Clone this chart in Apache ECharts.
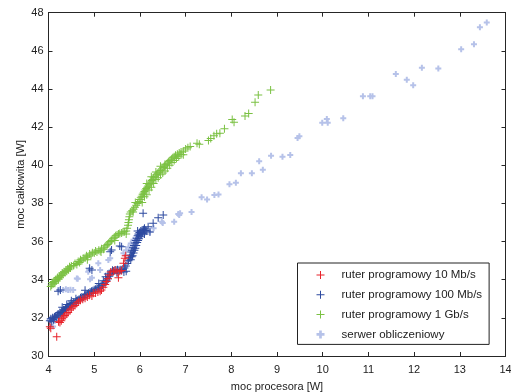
<!DOCTYPE html>
<html><head><meta charset="utf-8">
<script src="https://cdn.jsdelivr.net/npm/echarts@6/dist/echarts.min.js"></script>
<style>html,body{margin:0;padding:0;background:#fff}#c{width:511px;height:392px}</style>
</head><body><div id="c"></div>
<script>
const seriesNames = ['ruter programowy 10 Mb/s','ruter programowy 100 Mb/s','ruter programowy 1 Gb/s','serwer obliczeniowy'];
const xTicks = [4,5,6,7,8,9,10,11,12,13,14];
const yTicks = [30,32,34,36,38,40,42,44,46,48];

const red10 = [[4.03,31.54],[4.05,31.45],[4.18,31.01],[4.22,31.80],[4.25,31.75],[4.28,31.85],[4.30,31.95],[4.33,32.05],[4.36,32.12],[4.40,32.20],[4.43,32.28],[4.47,32.41],[4.50,32.50],[4.54,32.58],[4.58,32.65],[4.62,32.76],[4.66,32.85],[4.70,32.92],[4.75,32.98],[4.80,33.03],[4.85,33.10],[4.90,33.18],[4.95,33.15],[4.98,33.29],[5.03,33.30],[5.08,33.35],[5.13,33.40],[5.16,33.46],[5.20,33.60],[5.24,33.75],[5.27,33.90],[5.30,34.05],[5.33,34.25],[5.36,34.40],[5.42,34.45],[5.46,34.51],[5.50,34.40],[5.53,34.10],[5.56,34.45],[5.60,34.48],[5.64,34.86],[5.67,35.12],[5.69,35.25]];

const blue100 = [[4.03,31.85],[4.05,31.95],[4.07,31.80],[4.09,32.00],[4.11,31.90],[4.13,32.05],[4.15,32.10],[4.17,32.00],[4.19,32.15],[4.21,32.20],[4.23,32.10],[4.25,32.28],[4.27,32.22],[4.29,32.35],[4.31,32.30],[4.33,32.42],[4.35,32.38],[4.37,32.50],[4.39,32.45],[4.41,32.58],[4.43,32.55],[4.45,32.68],[4.47,32.62],[4.49,32.75],[4.52,32.72],[4.55,32.80],[4.58,32.78],[4.61,32.88],[4.64,32.92],[4.67,32.98],[4.70,33.05],[4.73,33.10],[4.76,33.08],[4.79,33.18],[4.82,33.22],[4.85,33.25],[4.88,33.30],[4.91,33.35],[4.94,33.40],[4.97,33.42],[5.00,33.48],[5.03,33.50],[5.06,33.55],[5.09,33.58],[5.12,33.62],[5.15,33.68],[5.18,33.72],[5.21,33.80],[5.24,33.88],[5.27,33.95],[5.30,34.05],[5.33,34.18],[5.36,34.30],[5.39,34.40],[5.42,34.45],[5.45,34.48],[5.48,34.50],[5.51,34.52],[5.54,34.50],[5.57,34.52],[5.60,34.50],[5.63,34.55],[5.66,34.62],[5.69,34.72],[5.72,34.85],[5.75,35.00],[5.77,35.15],[5.79,35.30],[5.81,35.45],[5.83,35.55],[5.85,35.68],[5.87,35.80],[5.89,35.92],[5.91,36.05],[5.93,36.18],[5.95,36.30],[5.97,36.40],[5.99,36.48],[6.02,36.55],[6.05,36.60],[6.08,36.62],[6.12,36.58],[6.15,36.55],[6.18,36.78],[6.22,36.50],[6.29,36.96],[6.40,37.25],[6.51,37.39],[6.07,37.48],[4.21,33.40],[4.26,33.46],[4.95,34.51],[4.90,34.60],[5.35,35.47],[5.38,35.56],[5.56,35.77],[5.60,35.73],[4.80,33.45],[5.10,33.80],[5.30,34.30],[5.70,34.45],[5.80,35.05],[5.84,35.25],[5.88,35.55],[5.92,35.80],[5.96,36.05],[6.00,36.25],[6.03,36.35],[5.65,34.40],[5.50,34.35],[5.40,34.50],[5.25,34.15],[5.20,33.95],[4.60,33.00],[4.40,32.70],[4.30,32.55],[4.50,32.90],[5.86,35.40],[5.90,35.65],[5.94,35.95],[5.98,36.15],[6.02,36.40],[6.06,36.45],[6.10,36.40],[5.82,35.20],[5.95,36.55],[6.10,36.70]];

const green1g = [[4.05,33.65],[4.07,33.72],[4.08,33.85],[4.10,33.78],[4.12,33.90],[4.14,33.82],[4.15,34.00],[4.17,33.95],[4.19,34.05],[4.20,34.12],[4.22,34.02],[4.24,34.18],[4.25,34.10],[4.27,34.25],[4.29,34.22],[4.30,34.35],[4.32,34.30],[4.34,34.42],[4.36,34.36],[4.38,34.50],[4.40,34.45],[4.42,34.58],[4.44,34.52],[4.46,34.68],[4.48,34.62],[4.50,34.72],[4.55,34.75],[4.58,34.85],[4.62,34.80],[4.65,34.95],[4.68,34.90],[4.70,35.05],[4.73,35.00],[4.76,35.12],[4.80,35.15],[4.83,35.25],[4.86,35.20],[4.90,35.35],[4.93,35.30],[4.96,35.42],[5.00,35.40],[5.03,35.50],[5.06,35.45],[5.10,35.55],[5.13,35.52],[5.16,35.62],[5.20,35.60],[5.23,35.70],[5.26,35.78],[5.29,35.85],[5.32,35.92],[5.35,36.00],[5.38,36.05],[5.41,36.15],[5.44,36.22],[5.47,36.30],[5.50,36.35],[5.53,36.40],[5.56,36.42],[5.60,36.45],[5.63,36.50],[5.66,36.52],[5.70,36.55],[5.72,36.70],[5.74,36.85],[5.75,37.00],[5.76,37.15],[5.77,37.30],[5.78,37.45],[5.80,37.55],[5.83,37.62],[5.86,37.70],[5.89,37.80],[5.92,37.90],[5.95,38.00],[5.98,38.10],[6.00,38.20],[6.02,38.30],[6.04,38.38],[6.06,38.48],[6.08,38.55],[6.10,38.62],[6.12,38.70],[6.14,38.78],[6.16,38.85],[6.18,38.92],[6.20,38.98],[6.22,39.05],[6.24,39.12],[6.26,39.20],[6.28,39.25],[6.30,39.35],[6.33,39.42],[6.36,39.50],[6.39,39.58],[6.42,39.65],[6.45,39.72],[6.48,39.80],[6.51,39.88],[6.54,39.95],[6.57,40.02],[6.60,40.10],[6.63,40.18],[6.66,40.25],[6.69,40.32],[6.72,40.40],[6.75,40.45],[6.78,40.52],[6.82,40.58],[6.86,40.65],[6.90,40.70],[6.95,40.75],[7.00,40.85],[7.05,40.92],[7.10,40.98],[7.25,41.15],[7.30,41.10],[7.50,41.30],[7.55,41.40],[7.62,41.55],[7.68,41.65],[7.75,41.68],[7.85,41.92],[8.02,42.40],[8.06,42.25],[8.30,42.58],[8.38,42.72],[8.52,43.30],[8.59,43.69],[8.86,43.95],[6.05,38.05],[6.10,38.35],[6.15,38.45],[6.20,38.70],[6.25,38.85],[6.30,39.05],[6.35,39.25],[6.40,39.35],[6.45,39.50],[6.50,39.60],[6.55,39.70],[6.60,39.85],[6.65,40.00],[6.70,40.15],[6.75,40.25],[6.80,40.35],[6.85,40.45],[6.90,40.55],[6.95,40.55],[6.25,39.40],[6.15,39.05],[6.35,39.65],[6.55,40.05],[6.45,39.95],[5.90,38.05],[5.85,37.55],[5.70,36.40],[5.45,36.05],[5.15,35.45],[4.85,35.05]];

const server = [[4.03,31.90],[4.10,31.55],[4.14,31.85],[4.24,33.46],[4.32,33.46],[4.38,33.50],[4.43,33.46],[4.48,33.48],[4.54,33.46],[4.62,34.07],[4.64,34.05],[4.87,34.42],[4.89,34.51],[4.91,34.02],[4.95,34.10],[5.09,34.86],[5.13,34.51],[5.31,35.03],[5.35,35.12],[5.64,35.39],[5.70,35.55],[5.75,35.70],[5.80,35.90],[5.86,36.10],[5.95,36.35],[6.05,36.45],[6.22,36.52],[6.30,36.70],[6.48,37.04],[6.50,36.98],[6.75,37.04],[6.84,37.45],[6.86,37.39],[6.88,37.48],[7.13,37.55],[7.35,38.33],[7.47,38.20],[7.63,38.44],[7.72,38.47],[7.96,39.00],[8.10,39.09],[8.21,39.58],[8.45,39.58],[8.61,40.21],[8.69,39.77],[8.87,40.50],[9.12,40.45],[9.29,40.54],[9.45,41.43],[9.49,41.52],[9.99,42.23],[10.09,42.43],[10.11,42.23],[10.45,42.46],[10.88,43.62],[11.04,43.62],[11.09,43.62],[11.60,44.79],[11.84,44.49],[11.98,44.19],[12.17,45.12],[12.53,45.07],[13.03,46.08],[13.31,46.35],[13.44,47.24],[13.59,47.48]];

const colors = ['#e8232b','#2d4aa0','#7bc143','#b6c2e9'];
const plusThin = 'path://M3.5,0H4.5V3.5H8V4.5H4.5V8H3.5V4.5H0V3.5H3.5Z';
const plusThick = 'path://M2,0H4V2H6V4H4V6H2V4H0V2H2Z';
const FONT = 'Liberation Sans, Arial, sans-serif';

const chart = echarts.init(document.getElementById('c'), null, {renderer:'canvas'});
const axisCommon = {
  axisLine:{show:true,lineStyle:{color:'#262626',width:1}},
  axisTick:{show:true,inside:true,length:4,lineStyle:{color:'#262626'}},
  splitLine:{show:false}
};
const datas = [red10, blue100, green1g, server];
chart.setOption({
  animation:false,
  grid:{left:48.5,right:5.5,top:12.7,bottom:36,containLabel:false,outerBoundsMode:'none'},
  xAxis:[
    Object.assign({type:'value',min:4,max:14,interval:1,position:'bottom',
      name:'moc procesora [W]',nameLocation:'middle',nameGap:25,nameMoveOverlap:false,
      nameTextStyle:{fontFamily:FONT,fontSize:11,color:'#222'},
      axisLabel:{fontFamily:FONT,fontSize:11,color:'#222',margin:8,
        formatter:v=>xTicks.includes(v)?String(v):''}}, axisCommon),
    Object.assign({type:'value',min:4,max:14,interval:1,position:'top',axisLabel:{show:false}}, axisCommon)
  ],
  yAxis:[
    Object.assign({type:'value',min:30,max:48,interval:2,position:'left',
      name:'moc całkowita [W]',nameLocation:'middle',nameGap:22,nameMoveOverlap:false,
      nameTextStyle:{fontFamily:FONT,fontSize:11,color:'#222'},
      axisLabel:{fontFamily:FONT,fontSize:11,color:'#222',margin:5,
        formatter:v=>yTicks.includes(v)?String(v):''}}, axisCommon),
    Object.assign({type:'value',min:30,max:48,interval:2,position:'right',axisLabel:{show:false}}, axisCommon)
  ],
  legend:{
    orient:'vertical',left:297.5,top:263,
    backgroundColor:'#fff',borderColor:'#222',borderWidth:1,
    padding:[5,7,3,19],itemGap:5.8,itemWidth:32,itemHeight:8,
    textStyle:{fontFamily:FONT,fontSize:11.5,color:'#222',lineHeight:14},
    data:seriesNames.map((n,i)=>({name:n,icon:i===3?plusThick:plusThin}))
  },
  series:seriesNames.map((n,i)=>({
    name:n,type:'scatter',xAxisIndex:0,yAxisIndex:0,
    data:datas[i],
    symbol:i===3?plusThick:plusThin,
    symbolSize:i===3?6:8,
    itemStyle:{color:colors[i],opacity:1},
    z:[5,3,4,2][i]
  }))
});
</script></body></html>
